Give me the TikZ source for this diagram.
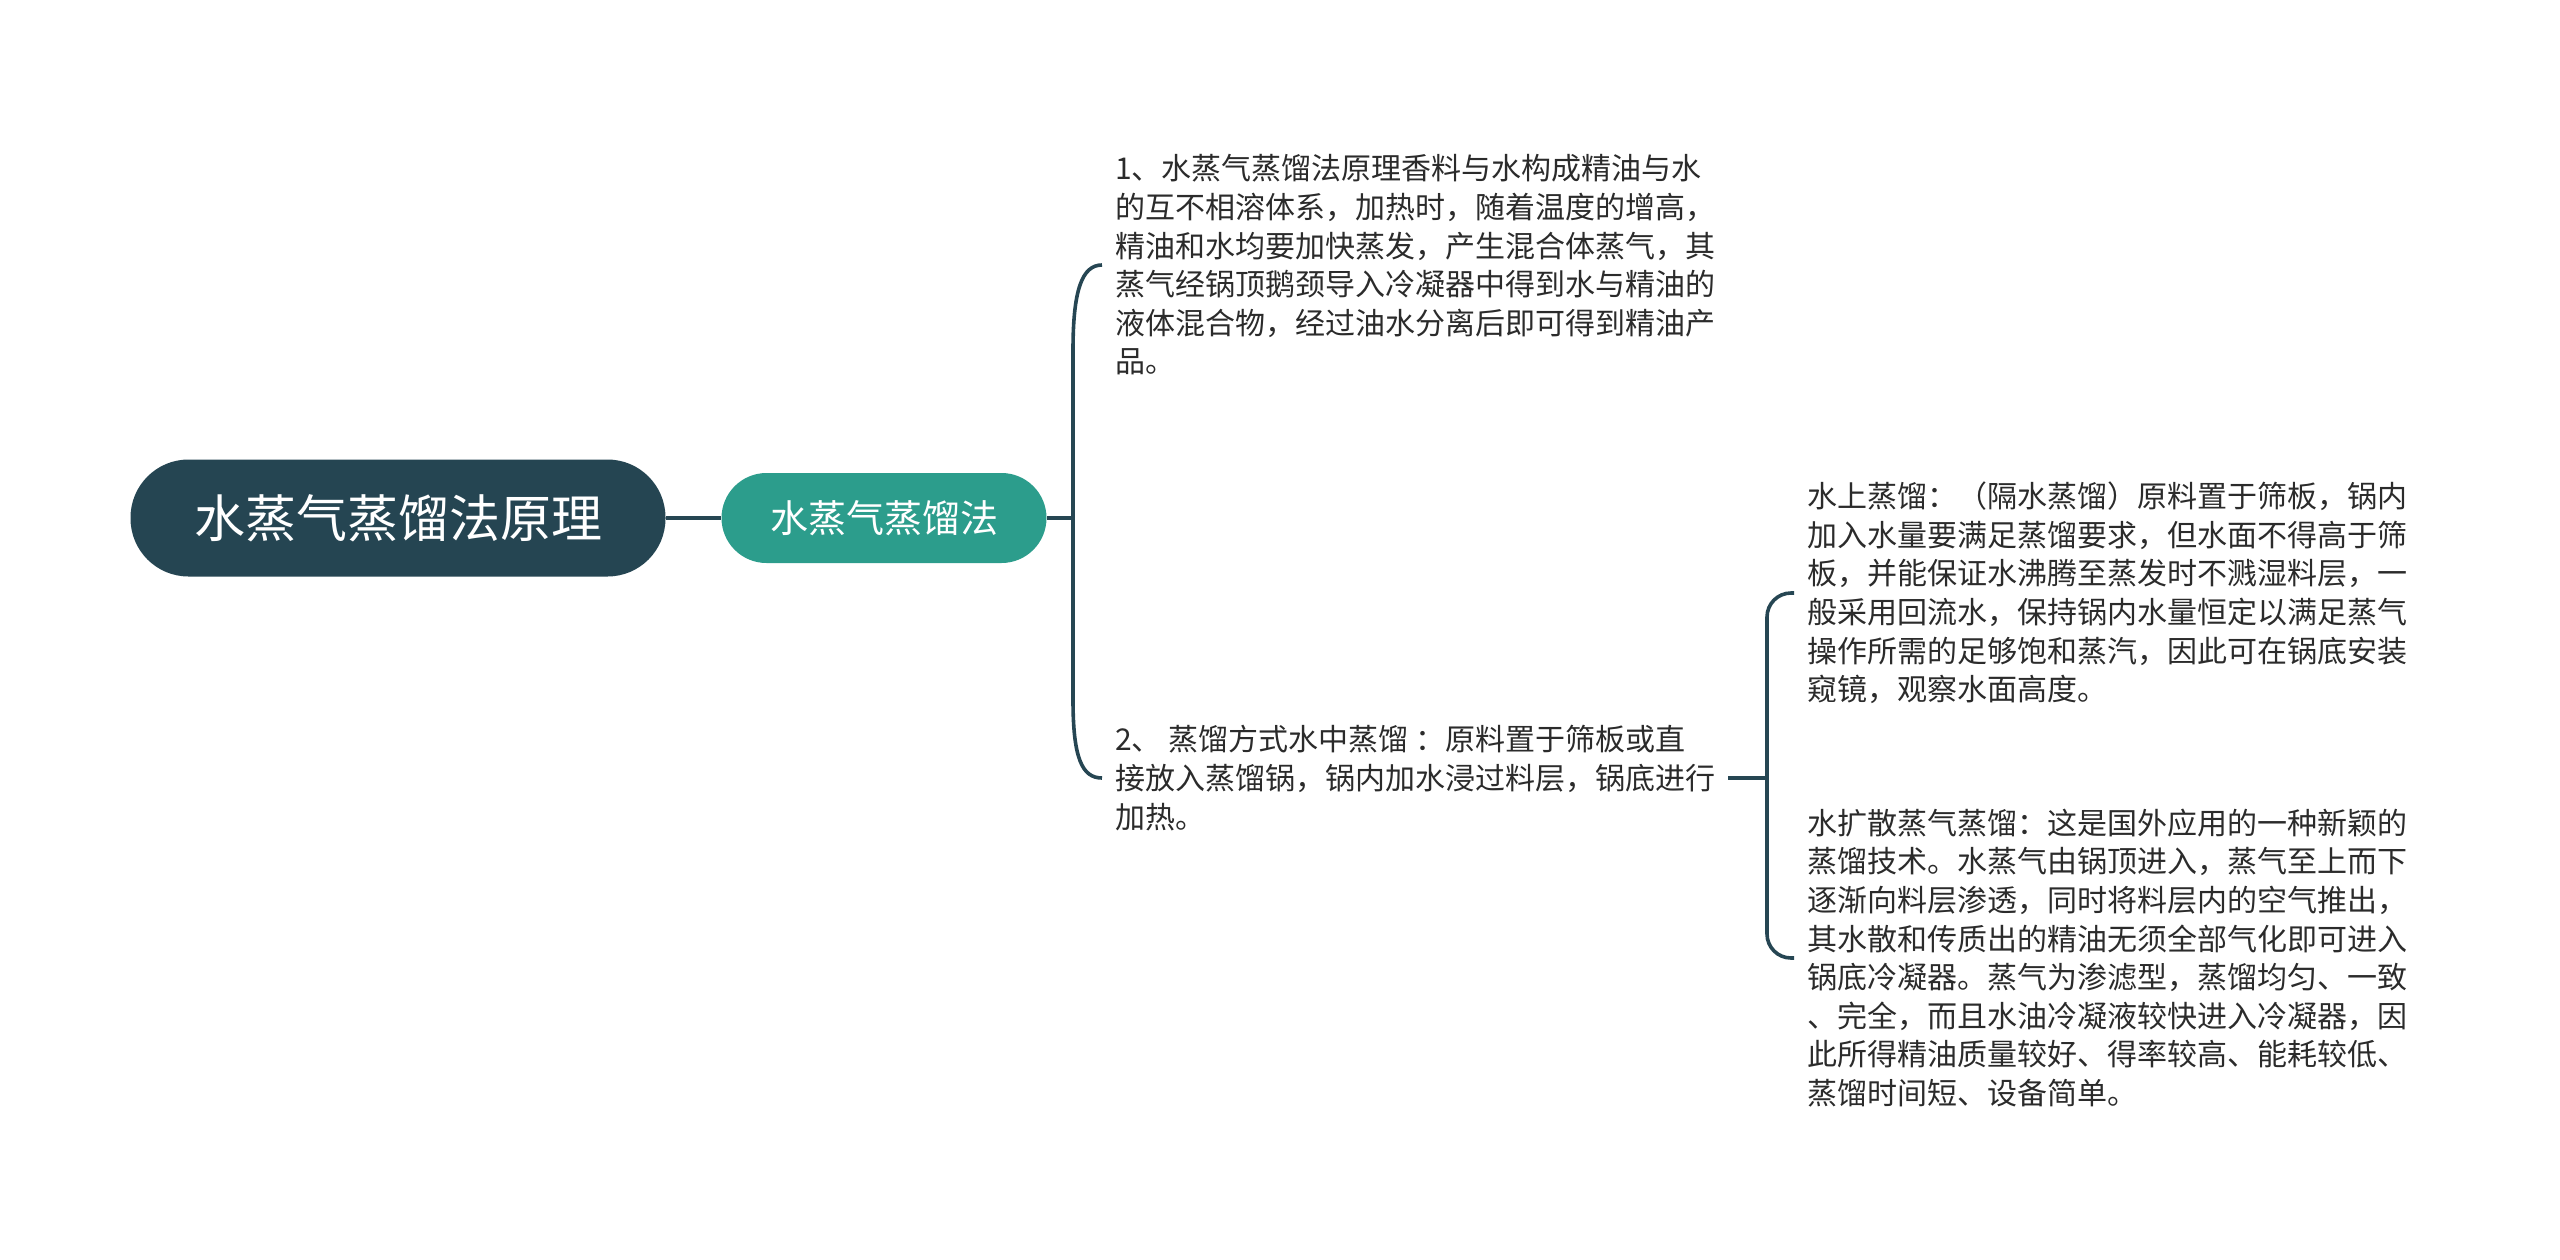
\documentclass[tikz,border=0pt]{standalone}
\usepackage{fontspec}
\setmainfont{Noto Sans CJK SC}
\definecolor{rootc}{HTML}{254552}
\definecolor{childc}{HTML}{2C9D8C}
\definecolor{linec}{HTML}{264653}
\definecolor{txtc}{HTML}{2B2B2B}
\begin{document}
\begin{tikzpicture}[x=1pt,y=-1pt,
  rootbox/.style={fill=rootc, text=white, rounded corners=58pt, minimum width=535pt, minimum height=117pt, inner sep=0pt, font=\fontsize{51}{60}\selectfont},
  childbox/.style={fill=childc, text=white, rounded corners=45pt, minimum width=325pt, minimum height=90pt, inner sep=0pt, font=\fontsize{38}{46}\selectfont},
  txtbox/.style={anchor=west, align=left, text=txtc, inner xsep=13pt, inner ysep=0pt, font=\fontsize{30}{38.6}\selectfont},
  conn/.style={draw=linec, line width=3.6pt},
]
\useasboundingbox (0,0) rectangle (2560,1259);
\node[rootbox] (root) at (398,518) {水蒸气蒸馏法原理};
\node[childbox] (child) at (884,518) {水蒸气蒸馏法};
\node[txtbox] (t1) at (1102,265) {1、水蒸气蒸馏法原理香料与水构成精油与水\\的互不相溶体系，加热时，随着温度的增高，\\精油和水均要加快蒸发，产生混合体蒸气，其\\蒸气经锅顶鹅颈导入冷凝器中得到水与精油的\\液体混合物，经过油水分离后即可得到精油产\\品。};
\node[txtbox] (t2) at (1102,778) {2、 蒸馏方式水中蒸馏 ：原料置于筛板或直\\接放入蒸馏锅，锅内加水浸过料层，锅底进行\\加热。};
\node[txtbox] (t3) at (1794,593) {水上蒸馏：（隔水蒸馏）原料置于筛板，锅内\\加入水量要满足蒸馏要求，但水面不得高于筛\\板，并能保证水沸腾至蒸发时不溅湿料层，一\\般采用回流水，保持锅内水量恒定以满足蒸气\\操作所需的足够饱和蒸汽，因此可在锅底安装\\窥镜，观察水面高度。};
\node[txtbox] (t4) at (1794,958) {水扩散蒸气蒸馏：这是国外应用的一种新颖的\\蒸馏技术。水蒸气由锅顶进入，蒸气至上而下\\逐渐向料层渗透，同时将料层内的空气推出，\\其水散和传质出的精油无须全部气化即可进入\\锅底冷凝器。蒸气为渗滤型，蒸馏均匀、一致\\、完全，而且水油冷凝液较快进入冷凝器，因\\此所得精油质量较好、得率较高、能耗较低、\\蒸馏时间短、设备简单。};
\coordinate (j1) at (1073,518);
\coordinate (j2) at (1767,778);
% root to child
\draw[conn] (root.east) -- (child.west);
% bracket 1
\draw[conn] (child.east) -- (j1);
\draw[conn] (t1.west) .. controls (1082,265) and (1073,290) .. (1073,350) -- (1073,700) .. controls (1073,758) and (1082,778) .. (t2.west);
% bracket 2
\draw[conn] (t2.east) -- (j2);
\draw[conn, rounded corners=24pt] (t3.west) -- (1767,593) -- (1767,958) -- (t4.west);
\end{tikzpicture}
\end{document}
